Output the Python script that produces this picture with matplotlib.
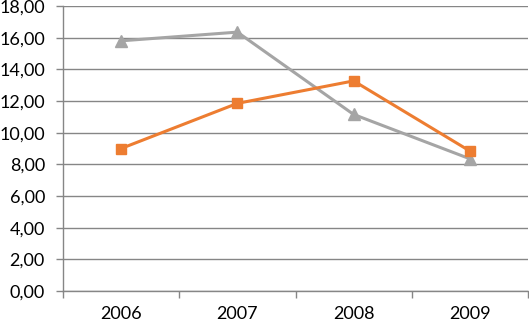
import matplotlib
matplotlib.use("Agg")
import matplotlib.pyplot as plt
from matplotlib.ticker import FuncFormatter, MultipleLocator

years = ["2006", "2007", "2008", "2009"]
orange_vals = [9.0, 11.85, 13.27, 8.84]
gray_vals = [15.8, 16.35, 11.15, 8.35]

plt.rcParams['font.family'] = ['Lato', 'DejaVu Sans']

fig = plt.figure(figsize=(5.29, 3.24), dpi=100)
ax = fig.add_axes([63/529, 1 - 291/324, (528-63)/529, (291-6)/324])

x = list(range(len(years)))
ax.plot(x, gray_vals, color="#A5A5A5", lw=2.2, marker="^", ms=8, zorder=3)
ax.plot(x, orange_vals, color="#ED7D31", lw=2.2, marker="s", ms=7, zorder=4)

ax.set_xlim(-0.5, 3.5)
ax.set_ylim(0, 18)
ax.yaxis.set_major_locator(MultipleLocator(2))
ax.yaxis.set_major_formatter(FuncFormatter(lambda v, p: f"{v:.2f}".replace(".", ",")))
ax.set_xticks(x)
ax.set_xticklabels(years)
ax.set_xticks([-0.5, 0.5, 1.5, 2.5, 3.5], minor=True)
ax.tick_params(axis="x", which="major", length=0, pad=11, labelsize=13, colors="black")
ax.tick_params(axis="x", which="minor", length=5, color="#868686", width=1)
ax.tick_params(axis="y", length=5, color="#868686", width=1, labelsize=13, pad=8)
ax.grid(axis="y", color="#868686", lw=1)
ax.set_axisbelow(True)
for s in ["top", "right"]:
    ax.spines[s].set_visible(False)
ax.spines["left"].set_color("#868686")
ax.spines["bottom"].set_color("#868686")
ax.spines["left"].set_linewidth(1)
ax.spines["bottom"].set_linewidth(1)

fig.savefig("out.png", dpi=100)
